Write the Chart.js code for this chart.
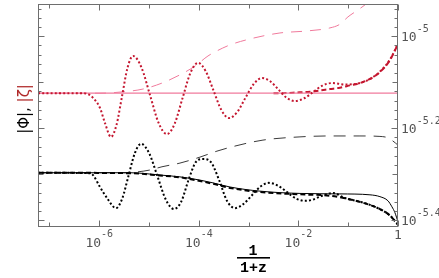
<!DOCTYPE html>
<html><head><meta charset="utf-8">
<script src="https://cdn.jsdelivr.net/npm/chart.js@4.4.1/dist/chart.umd.min.js"></script>
<style>html,body{margin:0;padding:0;background:#fff}canvas{display:block}</style>
</head><body>
<canvas id="c" width="439" height="278"></canvas>
<script>
// All values, as log10 of the scale factor a = 1/(1+z) and log10 of |Phi| or |zeta|
const X_RANGE_LOG = [-7.23, 0];
const Y_RANGE_LOG = [-5.415, -4.93];
const xTickExps = [-7, -6, -5, -4, -3, -2, -1, 0];
const xTickLabels = {"-6": ["10", "-6"], "-4": ["10", "-4"], "-2": ["10", "-2"], "0": ["1", ""]};
const yTickLabels = [[-5, "-5"], [-5.2, "-5.2"], [-5.4, "-5.4"]];

// |zeta| solid (pink)
const zetaSolidLogA = [-7.23, 0];
const zetaSolidLogV = [-5.124, -5.124];
// |zeta| long dashed (pink)
const zetaLongLogA = [-7.23, -5.985, -5.523, -5.122, -4.740, -4.379, -4.077, -3.816, -3.636, -3.375, -2.973, -2.371, -1.869, -1.367, -1.166, -1.005, -0.804, -0.664, -0.523, -0.363];
const zetaLongLogV = [-5.124, -5.124, -5.121, -5.115, -5.102, -5.084, -5.065, -5.043, -5.032, -5.019, -5.006, -4.993, -4.989, -4.982, -4.974, -4.958, -4.943, -4.932, -4.921, -4.904];
// |zeta| dotted (red, oscillating)
const zetaDotLogA = [-7.23, -6.387, -6.226, -6.126, -5.985, -5.885, -5.764, -5.654, -5.543, -5.433, -5.322, -5.152, -4.981, -4.810, -4.640, -4.484, -4.328, -4.173, -4.017, -3.862, -3.706, -3.550, -3.395, -3.229, -3.063, -2.898, -2.732, -2.566, -2.401, -2.235, -2.069, -1.884, -1.698, -1.512, -1.326, -1.065, -0.764, -0.563, -0.363, -0.162, 0];
const zetaDotLogV = [-5.124, -5.124, -5.126, -5.134, -5.156, -5.189, -5.219, -5.193, -5.131, -5.069, -5.043, -5.068, -5.128, -5.188, -5.213, -5.190, -5.135, -5.081, -5.058, -5.076, -5.118, -5.160, -5.178, -5.165, -5.134, -5.104, -5.091, -5.098, -5.116, -5.134, -5.141, -5.135, -5.121, -5.107, -5.102, -5.105, -5.102, -5.093, -5.077, -5.051, -5.017];
// |zeta| thick dashed (red)
const zetaDashLogA = [-2.50, -2.371, -1.969, -1.768, -1.567, -1.367, -1.166, -0.965, -0.764, -0.563, -0.363, -0.162, 0];
const zetaDashLogV = [-5.124, -5.124, -5.122, -5.121, -5.118, -5.115, -5.112, -5.107, -5.102, -5.093, -5.078, -5.052, -5.017];

// |Phi| solid (black)
const phiSolidLogA = [-7.23, -5.383, -4.780, -4.379, -3.977, -3.716, -3.375, -2.772, -1.969, -1.166, -0.563, -0.363, -0.202, -0.122, -0.061, 0];
const phiSolidLogV = [-5.297, -5.297, -5.302, -5.306, -5.313, -5.319, -5.328, -5.337, -5.342, -5.343, -5.345, -5.349, -5.358, -5.371, -5.384, -5.404];
// |Phi| thick dashed (black)
const phiDashLogA = [-7.23, -5.383, -4.780, -4.379, -3.977, -3.716, -3.375, -2.772, -1.969, -1.367, -0.965, -0.563, -0.363, -0.162, 0];
const phiDashLogV = [-5.297, -5.298, -5.303, -5.307, -5.315, -5.321, -5.330, -5.339, -5.344, -5.347, -5.355, -5.367, -5.376, -5.390, -5.410];
// |Phi| dotted (black, oscillating)
const phiDotLogA = [-7.23, -6.186, -6.126, -5.985, -5.844, -5.664, -5.538, -5.413, -5.287, -5.162, -4.996, -4.830, -4.665, -4.499, -4.354, -4.208, -4.062, -3.917, -3.756, -3.596, -3.435, -3.274, -3.104, -2.933, -2.762, -2.592, -2.411, -2.230, -2.049, -1.869, -1.728, -1.588, -1.447, -1.306, -1.065, -0.764, -0.563, -0.363, -0.162, 0];
const phiDotLogV = [-5.297, -5.298, -5.302, -5.328, -5.352, -5.374, -5.353, -5.304, -5.255, -5.234, -5.255, -5.305, -5.355, -5.376, -5.360, -5.313, -5.274, -5.267, -5.274, -5.312, -5.358, -5.374, -5.365, -5.346, -5.327, -5.319, -5.325, -5.339, -5.353, -5.358, -5.356, -5.350, -5.344, -5.341, -5.352, -5.360, -5.367, -5.376, -5.390, -5.410];
// |Phi| long dashed (grey)
const phiLongLogA = [-7.23, -5.483, -5.222, -4.981, -4.740, -4.379, -3.977, -3.636, -3.274, -2.712, -1.969, -1.367, -0.764, -0.363, -0.202, -0.102, 0];
const phiLongLogV = [-5.297, -5.297, -5.295, -5.291, -5.284, -5.276, -5.263, -5.250, -5.239, -5.226, -5.219, -5.217, -5.217, -5.218, -5.221, -5.228, -5.237];

const pts = (lx, ly) => lx.map((v, i) => ({x: Math.pow(10, v), y: Math.pow(10, ly[i])}));

const RED = '#c4162f', PINK = '#f07a9c', BLACK = '#000', GREY = '#3a3a3a';
function ds(lx, ly, color, width, dash) {
  return {data: pts(lx, ly), showLine: true, borderColor: color, borderWidth: width,
    borderDash: dash, borderCapStyle: 'butt', pointRadius: 0, fill: false, cubicInterpolationMode: 'monotone'};
}

const SUP_FONT = '10px "DejaVu Sans Mono"';
const BASE_FONT = '13px "DejaVu Sans Mono"';

const framePlugin = {
  id: 'frame',
  afterDraw(chart) {
    const {ctx, chartArea: a, scales} = chart;
    const x = scales.x, y = scales.y;
    ctx.save();
    ctx.strokeStyle = '#6e6e6e';
    ctx.lineWidth = 1;
    const L = a.left + 0.5, R = a.right - 0.5, T = a.top + 0.5, B = a.bottom - 0.5;
    ctx.strokeRect(L, T, R - L, B - T);
    ctx.beginPath();
    xTickExps.forEach(e => {
      const p = Math.round(x.getPixelForValue(Math.pow(10, e))) + 0.5;
      const len = (e % 2 === 0) ? 6 : 4;
      ctx.moveTo(p, B); ctx.lineTo(p, B - len);
      ctx.moveTo(p, T); ctx.lineTo(p, T + len);
    });
    for (let k = -270; k <= -247; k++) {
      const v = k / 50;
      const p = Math.round(y.getPixelForValue(Math.pow(10, v))) + 0.5;
      if (p < a.top || p > a.bottom) continue;
      let len = 3;
      if (k % 5 === 0) len = 5;
      if (k % 10 === 0) len = 6;
      ctx.moveTo(R, p); ctx.lineTo(R - len, p);
      ctx.moveTo(L, p); ctx.lineTo(L + len, p);
    }
    ctx.stroke();

    // tick labels
    ctx.fillStyle = '#555';
    ctx.textBaseline = 'alphabetic';
    ctx.textAlign = 'left';
    Object.keys(xTickLabels).forEach(k => {
      const [b, s] = xTickLabels[k];
      const p = x.getPixelForValue(Math.pow(10, +k));
      ctx.font = BASE_FONT; const wb = ctx.measureText(b).width;
      ctx.font = SUP_FONT; const ws = s ? ctx.measureText(s).width : 0;
      const x0 = p - (wb + ws) / 2;
      ctx.font = BASE_FONT;
      ctx.fillText(b, x0, s ? 247 : 239);
      if (s) { ctx.font = SUP_FONT; ctx.fillText(s, x0 + wb, 237); }
    });
    yTickLabels.forEach(([v, s]) => {
      const p = y.getPixelForValue(Math.pow(10, v));
      ctx.font = BASE_FONT; const wb = ctx.measureText('10').width;
      ctx.fillText('10', a.right + 3, p + 4.5);
      ctx.font = SUP_FONT; ctx.fillText(s, a.right + 3 + wb, p - 4.5);
    });

    // x title: fraction 1 / (1+z)
    ctx.fillStyle = '#000';
    ctx.textAlign = 'center';
    ctx.font = 'bold 15px "Liberation Mono"';
    ctx.fillText('1', 253, 255);
    ctx.fillText('1+z', 253.5, 272);
    ctx.fillRect(237, 257, 33, 1.6);

    // y title: |Phi|, |zeta|
    ctx.translate(25, 109);
    ctx.rotate(-Math.PI / 2);
    ctx.font = '15px "DejaVu Sans"';
    ctx.textAlign = 'left';
    ctx.textBaseline = 'middle';
    const parts = [['|Φ|', '#000'], [', ', '#000'], ['|ζ|', '#b02a2a']];
    const tw = parts.reduce((s, p) => s + ctx.measureText(p[0]).width, 0);
    let cx = -tw / 2;
    parts.forEach(([t, c]) => { ctx.fillStyle = c; ctx.fillText(t, cx, 0); cx += ctx.measureText(t).width; });
    ctx.restore();
  }
};

const axisCommon = {type: 'logarithmic', ticks: {display: false}, grid: {display: false}, border: {display: false}};

new Chart(document.getElementById('c'), {
  type: 'scatter',
  data: {datasets: [
    ds(zetaDotLogA, zetaDotLogV, RED, 2, [2, 2.2]),
    ds(phiDotLogA, phiDotLogV, BLACK, 2, [2, 2.2]),
    ds(phiDashLogA, phiDashLogV, BLACK, 2, [5, 3]),
    ds(phiSolidLogA, phiSolidLogV, BLACK, 1, []),
    ds(zetaSolidLogA, zetaSolidLogV, PINK, 1.3, []),
    ds(zetaDashLogA, zetaDashLogV, RED, 2, [5, 3]),
    ds(phiLongLogA, phiLongLogV, GREY, 1, [12, 8]),
    ds(zetaLongLogA, zetaLongLogV, PINK, 1, [11, 8])
  ]},
  options: {
    responsive: false, animation: false, devicePixelRatio: 1,
    layout: {padding: {top: 4, left: 0, right: 0, bottom: 0}},
    plugins: {legend: {display: false}, tooltip: {enabled: false}},
    scales: {
      x: Object.assign({}, axisCommon, {position: 'bottom', min: Math.pow(10, X_RANGE_LOG[0]), max: Math.pow(10, X_RANGE_LOG[1]), afterFit: s => { s.height = 51; }}),
      y: Object.assign({}, axisCommon, {position: 'right', min: Math.pow(10, Y_RANGE_LOG[0]), max: Math.pow(10, Y_RANGE_LOG[1]), afterFit: s => { s.width = 41; }}),
      yL: Object.assign({}, axisCommon, {position: 'left', min: Math.pow(10, Y_RANGE_LOG[0]), max: Math.pow(10, Y_RANGE_LOG[1]), afterFit: s => { s.width = 38; }})
    }
  },
  plugins: [framePlugin]
});
</script>
</body></html>
